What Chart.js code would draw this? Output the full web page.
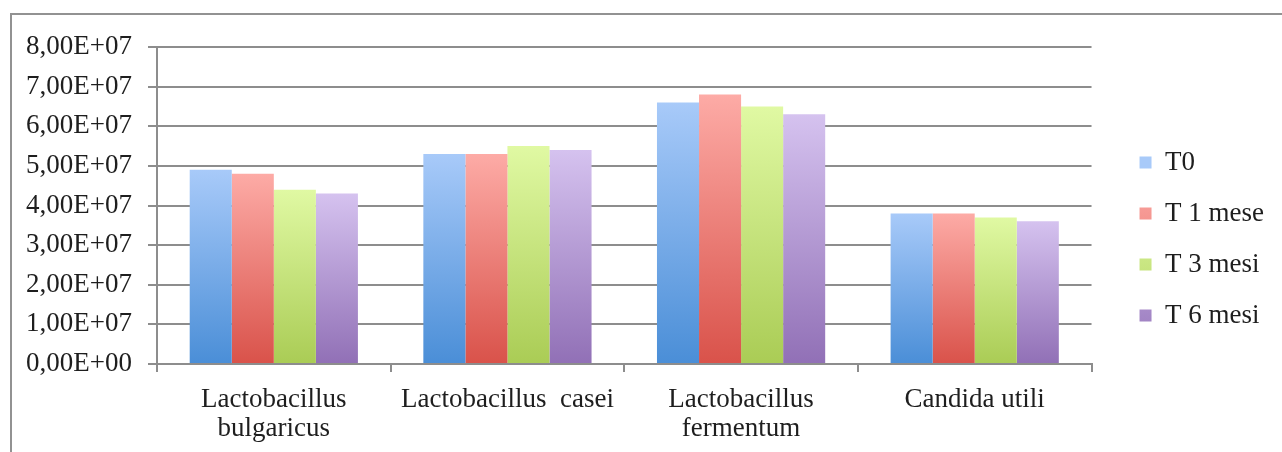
<!DOCTYPE html>
<html>
<head>
<meta charset="utf-8">
<script src="https://cdn.jsdelivr.net/npm/chart.js@4/dist/chart.umd.min.js"></script>
<style>
    body { margin: 0; background: #fff; }
    #wrap { position: relative; width: 1282px; height: 452px; overflow: hidden; }
    #frame {
        position: absolute; left: 10px; top: 13px; width: 1300px; height: 500px;
        border-top: 2px solid #929292; border-left: 2px solid #929292;
        pointer-events: none;
    }
    canvas { position: absolute; left: 0; top: 0; }
</style>
</head>
<body>
<div id="wrap">
    <canvas id="chart" width="1282" height="452"></canvas>
    <div id="frame"></div>
</div>
<script>
var categories = [
    ['Lactobacillus', 'bulgaricus'],
    'Lactobacillus  casei',
    ['Lactobacillus', 'fermentum'],
    'Candida utili'
];
var seriesNames = ['T0', 'T 1 mese', 'T 3 mesi', 'T 6 mesi'];
var t0 = [4.9e7, 5.3e7, 6.6e7, 3.8e7];
var t1mese = [4.8e7, 5.3e7, 6.8e7, 3.8e7];
var t3mesi = [4.4e7, 5.5e7, 6.5e7, 3.7e7];
var t6mesi = [4.3e7, 5.4e7, 6.3e7, 3.6e7];
var yTicks = [0, 1e7, 2e7, 3e7, 4e7, 5e7, 6e7, 7e7, 8e7];

// top colour, bottom colour, legend colour
var palette = [
    ['#a8caf9', '#4a8ed7', '#6fa6e6'],
    ['#fdaba6', '#d9524a', '#ea7a73'],
    ['#e0f9a3', '#aacc55', '#c4e37a'],
    ['#d5c2ef', '#9170b6', '#b197d6']
];

var axisFont = 'Liberation Serif';
var gridColor = '#8d8d8d';

// 8e7 -> "8,00E+07"
function sciLabel(value) {
    if (value === 0) return '0,00E+00';
    var s = value.toExponential(2).split('e');
    var exp = parseInt(s[1], 10);
    var sign = exp < 0 ? '-' : '+';
    var e = ('0' + Math.abs(exp)).slice(-2);
    return s[0].replace('.', ',') + 'E' + sign + e;
}

// vertical gradient per bar, light at the top
function barColor(index) {
    return function(context) {
        var chart = context.chart;
        var col = palette[index];
        if (context.dataIndex === undefined || !chart.chartArea) return col[2];
        var y = chart.scales.y;
        var top = y.getPixelForValue(context.raw);
        var bottom = y.getPixelForValue(0);
        if (!isFinite(top) || !isFinite(bottom) || top === bottom) return col[2];
        var g = chart.ctx.createLinearGradient(0, top, 0, bottom);
        g.addColorStop(0, col[0]);
        g.addColorStop(1, col[1]);
        return g;
    };
}

var allSeries = [t0, t1mese, t3mesi, t6mesi];
var datasets = allSeries.map(function(values, i) {
    return {
        label: seriesNames[i],
        data: values,
        backgroundColor: barColor(i),
        borderWidth: 0,
        categoryPercentage: 0.72,
        barPercentage: 1.0
    };
});

var ctx = document.getElementById('chart').getContext('2d');
var chart = new Chart(ctx, {
    type: 'bar',
    data: {
        labels: categories,
        datasets: datasets
    },
    options: {
        responsive: false,
        animation: false,
        devicePixelRatio: 1,
        layout: {
            padding: { top: 47, bottom: 0, left: 0, right: 8 }
        },
        scales: {
            x: {
                offset: true,
                grid: {
                    display: true,
                    offset: true,
                    drawOnChartArea: false,
                    drawTicks: true,
                    tickLength: 8,
                    color: gridColor,
                    lineWidth: 2
                },
                border: { display: true, color: gridColor, width: 2 },
                ticks: {
                    color: '#1e1e1e',
                    padding: 13,
                    maxRotation: 0,
                    autoSkip: false,
                    font: { family: axisFont, size: 27, lineHeight: 1.08 }
                },
                afterFit: function(scale) { scale.height = 88; }
            },
            y: {
                min: 0,
                max: 8e7,
                afterBuildTicks: function(scale) {
                    scale.ticks = yTicks.map(function(v) { return { value: v }; });
                },
                grid: {
                    color: gridColor,
                    lineWidth: 2,
                    drawTicks: true,
                    tickLength: 9
                },
                border: { display: true, color: gridColor, width: 2 },
                ticks: {
                    color: '#1e1e1e',
                    padding: 16,
                    font: { family: axisFont, size: 27 },
                    callback: function(value) { return sciLabel(value); }
                },
                afterFit: function(scale) { scale.width = 157; }
            },
            // empty axis, only keeps space between plot and legend
            gap: {
                type: 'linear',
                position: 'right',
                display: true,
                grid: { display: false, drawTicks: false },
                border: { display: false },
                ticks: { display: false },
                afterFit: function(scale) { scale.width = 24; }
            }
        },
        plugins: {
            legend: {
                position: 'right',
                align: 'start',
                title: {
                    display: true,
                    text: '',
                    padding: { top: 68, bottom: 0 },
                    font: { size: 10, lineHeight: 1 }
                },
                labels: {
                    color: '#1e1e1e',
                    boxWidth: 12,
                    boxHeight: 12,
                    padding: 24,
                    font: { family: axisFont, size: 27 }
                }
            },
            tooltip: { enabled: false }
        }
    }
});
</script>
</body>
</html>
